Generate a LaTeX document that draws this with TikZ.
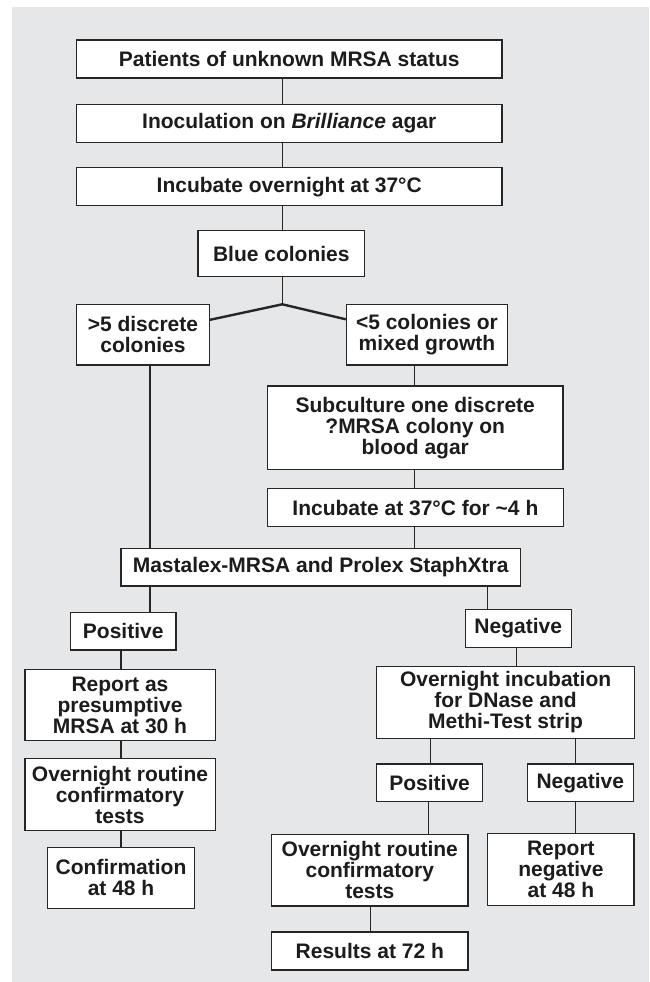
\documentclass[tikz,border=0pt]{standalone}
\usepackage{fontspec}
\setmainfont{Liberation Sans}
\usetikzlibrary{calc}
\definecolor{bgc}{HTML}{E6E7E8}
\definecolor{linec}{HTML}{262626}
\definecolor{textc}{HTML}{1C1C1C}
\newcommand{\boxfont}{\bfseries\fontsize{21}{21}\selectfont}
\tikzset{
  box/.style={draw=linec, line width=1.4pt, fill=white, inner sep=0pt, align=center, font=\boxfont, text=textc},
  conn/.style={draw=linec, line width=1.3pt},
  fork/.style={draw=linec, line width=2.4pt},
}
\begin{document}
\begin{tikzpicture}[x=1pt,y=-1pt]
\useasboundingbox (0,0) rectangle (649,982);
\fill[bgc] (12,7) rectangle (649,982);

\node[box, minimum width=425.5pt, minimum height=38pt] (b1) at (289.25,59) {Patients of unknown MRSA status};
\node[box, minimum width=425.5pt, minimum height=38.4pt] (b2) at (289.25,123.5) {Inoculation on \textit{Brilliance} agar};
\node[box, minimum width=425.5pt, minimum height=38pt] (b3) at (289.25,186.7) {Incubate overnight at 37°C};
\node[box, minimum width=166.6pt, minimum height=45.6pt] (b4) at (281.3,253.5) {Blue colonies};
\node[box, minimum width=132.7pt, minimum height=60.5pt] (b5) at (142.95,334.75) {>5 discrete\\colonies};
\node[box, minimum width=160.9pt, minimum height=60.5pt] (b6) at (426.95,334.75) {<5 colonies or\\mixed growth};
\node[box, minimum width=295.5pt, minimum height=83.3pt] (b7) at (415.25,427.65) {Subculture one discrete\\?MRSA colony on\\blood agar};
\node[box, minimum width=295.8pt, minimum height=38.2pt] (b8) at (415.4,507.6) {Incubate at 37°C for \textasciitilde4 h};
\node[box, minimum width=399.3pt, minimum height=37.7pt] (b9) at (320.65,567.15) {Mastalex-MRSA and Prolex StaphXtra};
\node[box, minimum width=105.6pt, minimum height=37.7pt] (b10) at (123.2,631.15) {Positive};
\node[box, minimum width=106pt, minimum height=38pt] (b11) at (518.2,628.3) {Negative};
\node[box, minimum width=190.4pt, minimum height=71.4pt] (b12) at (120,705) {Report as\\presumptive\\MRSA at 30 h};
\node[box, minimum width=190.4pt, minimum height=72pt] (b13) at (120,794.7) {Overnight routine\\confirmatory\\tests};
\node[box, minimum width=146.9pt, minimum height=61pt] (b14) at (121.05,877.8) {Confirmation\\at 48 h};
\node[box, minimum width=257.8pt, minimum height=71.6pt] (b15) at (505.6,702.5) {Overnight incubation\\for DNase and\\Methi-Test strip};
\node[box, minimum width=105.9pt, minimum height=37.7pt] (b16) at (429.65,782.85) {Positive};
\node[box, minimum width=106pt, minimum height=37.7pt] (b17) at (580.3,782.85) {Negative};
\node[box, minimum width=196.6pt, minimum height=71.7pt] (b18) at (369.8,870.15) {Overnight routine\\confirmatory\\tests};
\node[box, minimum width=146.5pt, minimum height=72pt] (b19) at (560.85,869.7) {Report\\negative\\at 48 h};
\node[box, minimum width=196.6pt, minimum height=38pt] (b20) at (369.8,951) {Results at 72 h};

\coordinate (J) at (282.3,304.3);
\coordinate (xA) at (282.3,0);
\coordinate (xL) at (150,0);
\coordinate (xR) at (414.3,0);
\coordinate (xN) at (487.6,0);
\coordinate (xNb) at (516.6,0);
\coordinate (xP) at (121,0);
\coordinate (xPa) at (430.5,0);
\coordinate (xPb) at (428.8,0);
\coordinate (xNg) at (575.3,0);
\coordinate (xRs) at (370.4,0);

\draw[conn] (b1.south -| xA) -- (b2.north -| xA);
\draw[conn] (b2.south -| xA) -- (b3.north -| xA);
\draw[conn] (b3.south -| xA) -- (b4.north -| xA);
\draw[conn] (b4.south -| xA) -- (J);
\draw[fork] ($(b5.north east)+(0,16)$) -- (J) -- ($(b6.north west)+(0,15.5)$);
\draw[conn] (b5.south -| xL) -- (b9.north -| xL);
\draw[conn] (b9.south -| xL) -- (b10.north -| xL);
\draw[conn] (b6.south -| xR) -- (b7.north -| xR);
\draw[conn] (b7.south -| xR) -- (b8.north -| xR);
\draw[conn] (b8.south -| xR) -- (b9.north -| xR);
\draw[conn] (b9.south -| xN) -- (b11.north -| xN);
\draw[conn] (b11.south -| xNb) -- (b15.north -| xNb);
\draw[conn] (b10.south -| xP) -- (b12.north -| xP);
\draw[conn] (b12.south -| xP) -- (b13.north -| xP);
\draw[conn] (b13.south -| xP) -- (b14.north -| xP);
\draw[conn] (b15.south -| xPa) -- (b16.north -| xPa);
\draw[conn] (b15.south -| xNg) -- (b17.north -| xNg);
\draw[conn] (b16.south -| xPb) -- (b18.north -| xPb);
\draw[conn] (b17.south -| xNg) -- (b19.north -| xNg);
\draw[conn] (b18.south -| xRs) -- (b20.north -| xRs);
\end{tikzpicture}
\end{document}
